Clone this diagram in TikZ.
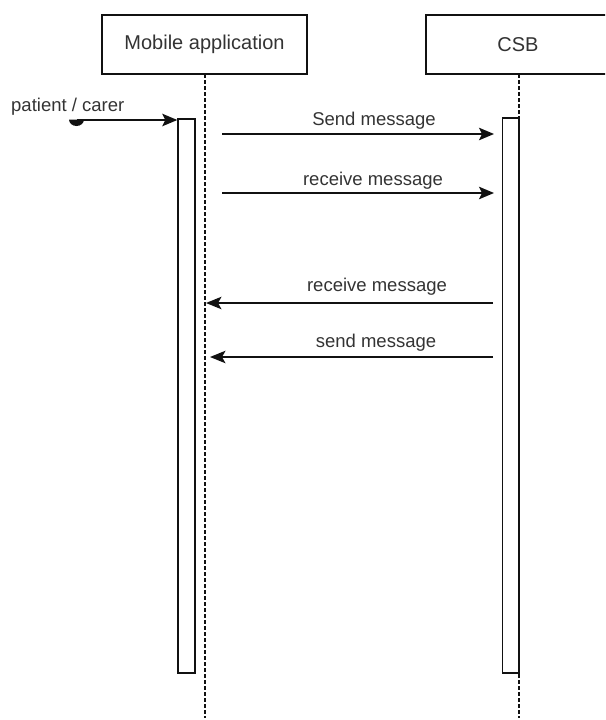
\documentclass[tikz,border=0pt]{standalone}
\usepackage{fontspec}
\setmainfont{Liberation Sans}
\usetikzlibrary{arrows.meta}
\definecolor{txt}{HTML}{333333}
\definecolor{ln}{HTML}{111111}
\tikzset{
  actor/.style={draw=ln, line width=1.4pt, fill=white, inner sep=0pt, text=txt, font=\fontsize{20}{24}\selectfont},
  bar/.style={draw=ln, line width=1.4pt, fill=white, inner sep=0pt},
  lifeline/.style={draw=ln, line width=1.4pt, dash pattern=on 3.5pt off 2.5pt},
  msg/.style={draw=ln, line width=1.4pt},
  fwd/.style={msg, -{Stealth[length=15pt,width=12.5pt,inset=3pt]}},
  bwd/.style={msg, -{Stealth[length=15.5pt,width=12.5pt,inset=3.5pt]}},
  lbl/.style={text=txt, font=\fontsize{18.5}{22}\selectfont, inner sep=0pt}
}
\begin{document}
\begin{tikzpicture}[x=1pt,y=-1pt]
\useasboundingbox (0,0) rectangle (605,720);
\begin{scope}
\clip (0,0) rectangle (605,720);
% lifelines
\coordinate (mtop) at (205,74);
\coordinate (mbot) at (205,718);
\coordinate (ctop) at (519,74);
\coordinate (cbot) at (519,718);
\draw[lifeline] (mtop) -- (mbot);
\draw[lifeline] (ctop) -- (cbot);
% actor boxes
\node[actor, minimum width=205pt, minimum height=59pt] (mob) at (204.5,44.5) {Mobile application};
\node[actor, minimum width=186pt, minimum height=59pt] (csbbox) at (519,44.5) {};
\node[text=txt, font=\fontsize{20}{24}\selectfont, inner sep=0pt] (csb) at (518,44.5) {CSB};
% activation bars
\node[bar, minimum width=17pt, minimum height=554pt] (mbar) at (186.5,396) {};
\node[bar, minimum width=16.5pt, minimum height=555pt] (cbar) at (510.75,395.5) {};
% found message
\coordinate (dot) at (77,120);
\fill[ln] (69,119.5) arc[start angle=180, end angle=360, x radius=7.5pt, y radius=6.5pt] -- cycle;
\draw[fwd] (dot) -- (mbar.north west |- dot);
\node[lbl, anchor=west] (pc) at (11,107) {patient / carer};
% messages
\coordinate (s1a) at (222,134); \coordinate (s1b) at (494,134);
\draw[fwd] (s1a) -- (s1b);
\node[lbl] (l1) at (374,121) {Send message};
\coordinate (s2a) at (222,193); \coordinate (s2b) at (494,193);
\draw[fwd] (s2a) -- (s2b);
\node[lbl] (l2) at (373,181) {receive message};
\coordinate (s3a) at (493,303); \coordinate (s3b) at (206,303);
\draw[bwd] (s3a) -- (s3b);
\node[lbl] (l3) at (377,287) {receive message};
\coordinate (s4a) at (493,357); \coordinate (s4b) at (210,357);
\draw[bwd] (s4a) -- (s4b);
\node[lbl] (l4) at (376,343) {send message};
\end{scope}
\end{tikzpicture}
\end{document}
